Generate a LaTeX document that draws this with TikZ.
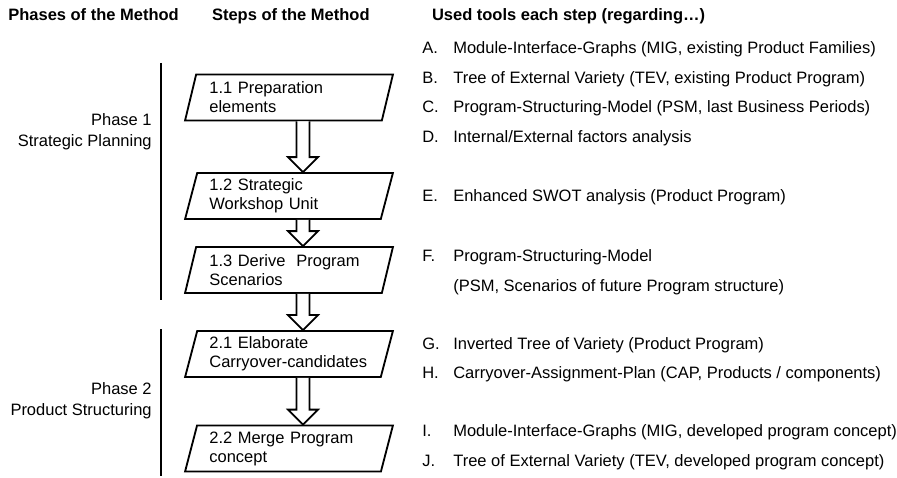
\documentclass[tikz,border=0pt]{standalone}
\usepackage{fontspec}
\setmainfont{Liberation Sans}
\usetikzlibrary{shapes.geometric,calc}

% fat arrow between two step boxes
\newcommand{\stepArrow}[2]{%
  \draw[blockArrow] let \p1=(#1.south), \p2=(#2.north) in
    (\x1+0.158cm,\y1) -- (\x1+0.158cm,\y2+0.316cm) -- (\x1-0.021cm,\y2+0.316cm)
    -- (\x1+0.295cm,\y2) -- (\x1+0.611cm,\y2+0.316cm) -- (\x1+0.432cm,\y2+0.316cm)
    -- (\x1+0.432cm,\y1);
}

\begin{document}
\begin{tikzpicture}[
    every node/.style={font=\fontsize{9.9}{11.4}\selectfont},
    header/.style={anchor=base west, inner sep=0, font=\fontsize{9.9}{11.4}\selectfont\bfseries},
    stepBox/.style={trapezium, trapezium left angle=73, trapezium right angle=107, trapezium stretches,
        draw, line width=1.1pt, minimum width=4.389cm, minimum height=0.971cm,
        text width=3.36cm, align=left, inner sep=0pt},
    blockArrow/.style={draw, line width=1.1pt, fill=white, line join=miter},
    phaseLabel/.style={anchor=east, align=right, inner sep=0, font=\fontsize{9.9}{12.6}\selectfont},
    phaseLine/.style={draw, line width=1.1pt},
    toolLetter/.style={anchor=base west, inner sep=0},
    toolText/.style={anchor=base west, inner sep=0}
]
    \useasboundingbox (0,0) rectangle (18.927,-10.065);

    % column heads
    \node[header] (hPhase) at (0.169,-0.443) {Phases of the Method};
    \node[header] (hStep) at (4.467,-0.443) {Steps of the Method};
    \node[header] (hTool) at (9.109,-0.443) {Used tools each step (regarding\dots)};

    % phases
    \node[phaseLabel] (ph1) at (3.207,-2.779) {Phase 1\\Strategic Planning};
    \node[phaseLabel] (ph2) at (3.207,-8.455) {Phase 2\\Product Structuring};
    \draw[phaseLine] (3.397,-1.329) -- (3.397,-6.33);
    \draw[phaseLine] (3.397,-6.942) -- (3.397,-10.04);

    % steps
    \node[stepBox] (s11) at (6.098,-2.057) {1.1 Preparation\\elements};
    \node[stepBox] (s12) at (6.098,-4.136) {1.2 Strategic\\Workshop Unit};
    \node[stepBox] (s13) at (6.098,-5.697) {1.3 Derive~ Program\\Scenarios};
    \node[stepBox] (s21) at (6.098,-7.469) {2.1 Elaborate\\\mbox{Carryover-candidates}};
    \node[stepBox] (s22) at (6.098,-9.463) {2.2 Merge Program\\concept};

    \stepArrow{s11}{s12}
    \stepArrow{s12}{s13}
    \stepArrow{s13}{s21}
    \stepArrow{s21}{s22}

    % tools
    \foreach \id/\yy/\txt in {
        A/-1.139/{Module-Interface-Graphs (MIG, existing Product Families)},
        B/-1.772/{Tree of External Variety (TEV, existing Product Program)},
        C/-2.384/{Program-Structuring-Model (PSM, last Business Periods)},
        D/-3.017/{Internal/External factors analysis},
        E/-4.241/{Enhanced SWOT analysis (Product Program)},
        F/-5.528/{Program-Structuring-Model},
        G/-7.364/{Inverted Tree of Variety (Product Program)},
        H/-7.976/{Carryover-Assignment-Plan (CAP, Products / components)},
        I/-9.200/{Module-Interface-Graphs (MIG, developed program concept)},
        J/-9.833/{Tree of External Variety (TEV, developed program concept)}}
    {
        \node[toolLetter] (ltr\id) at (8.904,\yy) {\id.};
        \node[toolText] (tool\id) at (9.558,\yy) {\txt};
    }
    \node[toolText] (toolF2) at (9.558,-6.140) {(PSM, Scenarios of future Program structure)};
\end{tikzpicture}
\end{document}
